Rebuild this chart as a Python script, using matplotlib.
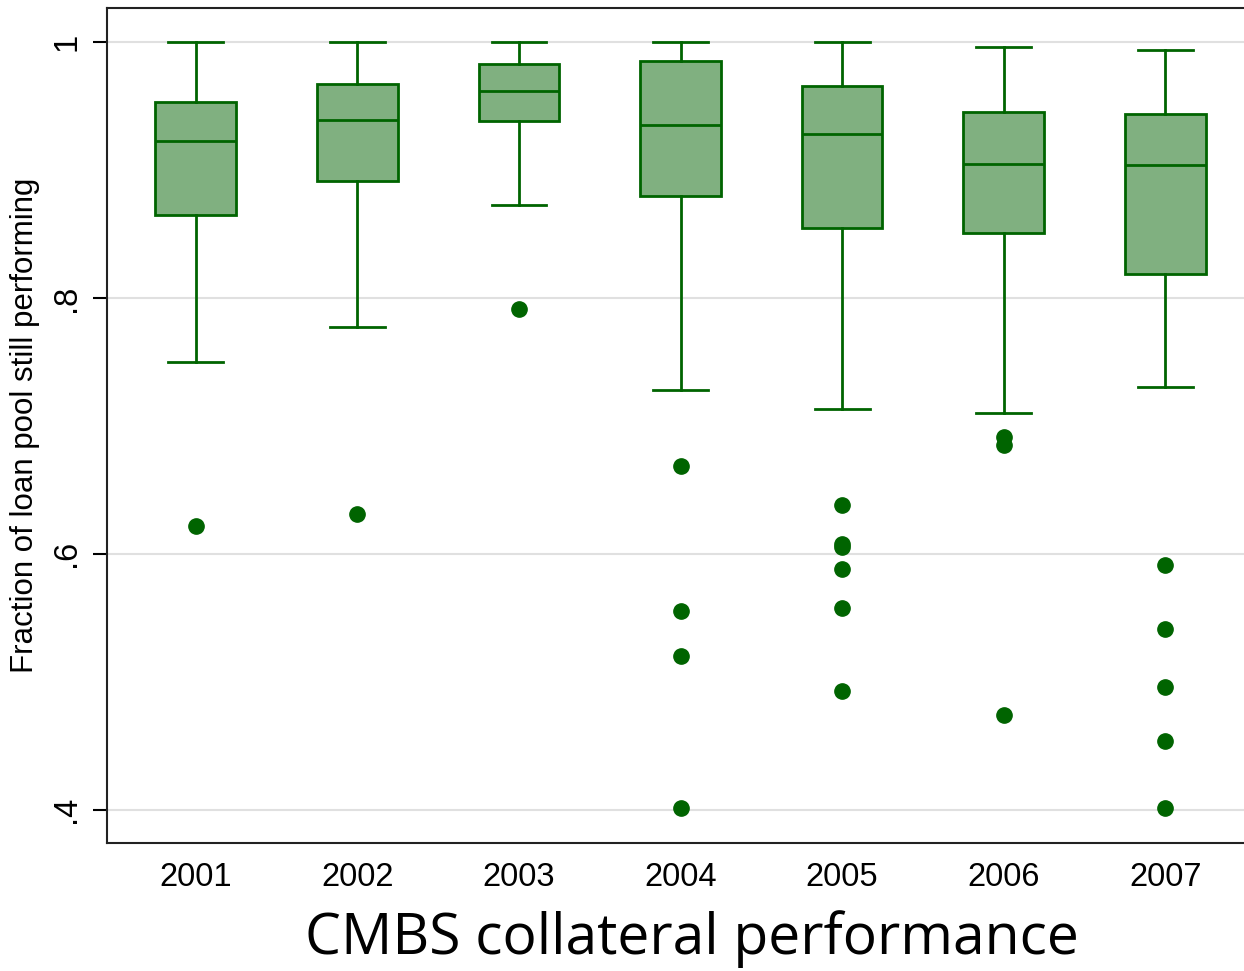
import matplotlib
matplotlib.use("Agg")
import matplotlib.pyplot as plt

# values
years = ['2001', '2002', '2003', '2004', '2005', '2006', '2007']
whis_hi = [1.000, 1.000, 1.000, 1.000, 1.000, 0.996, 0.994]
q3 = [0.953, 0.967, 0.983, 0.985, 0.966, 0.945, 0.944]
median = [0.923, 0.939, 0.962, 0.935, 0.928, 0.905, 0.904]
q1 = [0.865, 0.891, 0.938, 0.880, 0.855, 0.851, 0.819]
whis_lo = [0.750, 0.777, 0.873, 0.728, 0.713, 0.710, 0.730]
outliers = [
    [0.622],
    [0.631],
    [0.791],
    [0.669, 0.555, 0.520, 0.401],
    [0.638, 0.608, 0.605, 0.588, 0.558, 0.493],
    [0.691, 0.685, 0.474],
    [0.591, 0.541, 0.496, 0.454, 0.401],
]

green = '#006400'
fill = '#80b080'

stats = []
for i in range(len(years)):
    stats.append({'label': years[i], 'whishi': whis_hi[i], 'q3': q3[i],
                  'med': median[i], 'q1': q1[i], 'whislo': whis_lo[i],
                  'fliers': outliers[i]})

fig = plt.figure(figsize=(12.44, 9.71), dpi=100)
ax = fig.add_axes([107 / 1244, 128 / 971, 1139 / 1244, 835 / 971])

ax.bxp(stats, positions=range(1, len(years) + 1), widths=0.5, patch_artist=True,
       boxprops=dict(facecolor=fill, edgecolor=green, linewidth=2),
       medianprops=dict(color=green, linewidth=2),
       whiskerprops=dict(color=green, linewidth=2),
       capprops=dict(color=green, linewidth=2), capwidths=0.34,
       flierprops=dict(marker='o', markerfacecolor=green, markeredgecolor=green,
                       markersize=11))

ax.set_xlim(0.45, 7.5)
ax.set_ylim(0.374, 1.0266)
ax.set_yticks([0.4, 0.6, 0.8, 1.0])
ax.set_yticklabels(['.4', '.6', '.8', '1'], rotation=90, va='center')
ax.yaxis.grid(True, color='#e0e0e0', linewidth=1.5)
ax.set_axisbelow(True)

ax.tick_params(axis='y', length=10, width=1.5, pad=8, labelsize=23.5)
ax.tick_params(axis='x', length=0, pad=14, labelsize=23.5)
for lab in ax.get_xticklabels() + ax.get_yticklabels():
    lab.set_family('Liberation Sans')

for s in ['left', 'bottom', 'top', 'right']:
    ax.spines[s].set_linewidth(1.5)
    ax.spines[s].set_color('#222222')

ax.set_ylabel('Fraction of loan pool still performing', fontsize=22.5,
              family='Liberation Sans', labelpad=8)

fig.text(692 / 1244, 17 / 971, 'CMBS collateral performance', fontsize=41,
         family='Open Sans', ha='center', va='baseline')

fig.savefig('out.png', dpi=100)
